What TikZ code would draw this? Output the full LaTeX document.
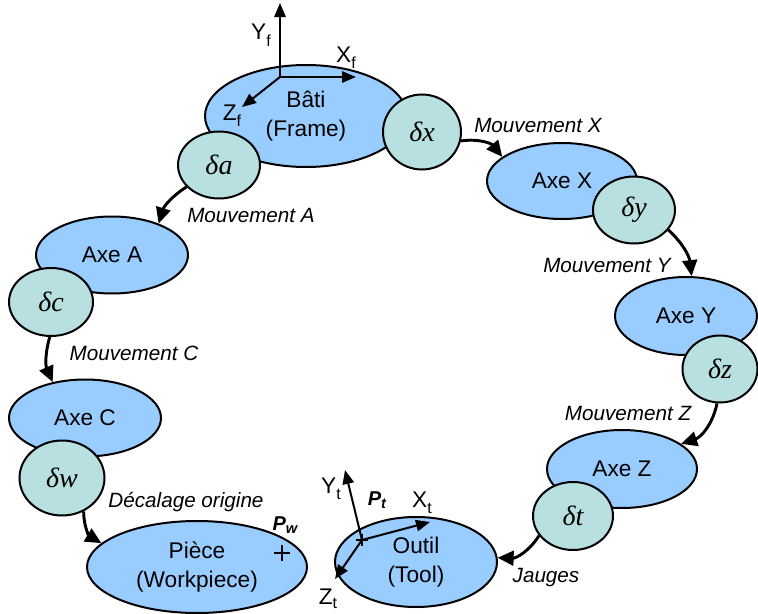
\documentclass[tikz,border=0pt]{standalone}
\usepackage{fontspec}
\setmainfont{Liberation Sans}
\newfontfamily\dfont{Liberation Serif}
\usetikzlibrary{shapes.geometric,arrows.meta}
\definecolor{bigblue}{HTML}{99CCFF}
\definecolor{smallteal}{HTML}{B8E0E0}
\newcommand{\sbx}[1]{\raisebox{-5pt}{\fontsize{12}{12}\selectfont #1}}
\newcommand{\sbz}[1]{\raisebox{-3.5pt}{\fontsize{12}{12}\selectfont #1}}
\newcommand{\sbp}[1]{\raisebox{-2.5pt}{\fontsize{11}{11}\selectfont\bfseries\itshape #1}}
\begin{document}
\begin{tikzpicture}[x=0.75pt,y=-0.75pt,
  big/.style={ellipse, draw, line width=1.5pt, fill=bigblue, inner sep=0pt, align=center,
    font=\fontsize{17}{21.75}\selectfont},
  small/.style={ellipse, draw, line width=1.5pt, fill=smallteal, inner sep=0pt,
    font=\dfont\itshape\fontsize{21}{21}\selectfont},
  lab/.style={font=\itshape\fontsize{15.5}{18}\selectfont, anchor=base, inner sep=0pt},
  axlab/.style={font=\fontsize{17}{17}\selectfont, anchor=base, inner sep=0pt},
  plab/.style={font=\bfseries\itshape\fontsize{15}{15}\selectfont, anchor=base, inner sep=0pt},
  conn/.style={line width=2.2pt, -{Triangle[length=12pt,width=11pt]}},
  axis/.style={line width=1.5pt, -{Triangle[length=10.5pt,width=8.5pt]}}
]
\useasboundingbox (0,0) rectangle (758,614);

% big ellipses
\node[big, minimum width=151.5pt, minimum height=76.5pt] (bati) at (306,116) {B\^ati\\(Frame)};
\node[big, minimum width=112.5pt, minimum height=57pt] (axX) at (562,181) {Axe X};
\node[big, minimum width=106.5pt, minimum height=58.5pt] (axY) at (686,316) {Axe Y};
\node[big, minimum width=112.5pt, minimum height=58.5pt] (axZ) at (622,469) {Axe Z};
\node[big, minimum width=114pt, minimum height=57.75pt] (axA) at (112,255) {Axe A};
\node[big, minimum width=114pt, minimum height=57.75pt] (axC) at (85,418) {Axe C};
\node[big, minimum width=165pt, minimum height=69pt] (piece) at (197,567) {Pi\`ece\\(Workpiece)};
\node[big, minimum width=121.5pt, minimum height=67.5pt] (outil) at (416,562) {Outil\\(Tool)};

% small ellipses
\node[small, minimum width=58.5pt, minimum height=56.25pt] (dx) at (422,132) {δx};
\node[small, minimum width=61.5pt, minimum height=50.25pt] (dy) at (634,210) {δy};
\node[small, minimum width=56.25pt, minimum height=50.25pt] (dz) at (720,369) {δz};
\node[small, minimum width=60pt, minimum height=51pt] (dt) at (573,516) {δt};
\node[small, minimum width=63.75pt, minimum height=56.25pt] (dw) at (62,478) {δw};
\node[small, minimum width=63pt, minimum height=51pt] (dc) at (51,302) {δc};
\node[small, minimum width=61.5pt, minimum height=50.25pt] (da) at (219,165) {δa};

% connectors
\draw[conn] (dx.-13) to[bend left=30] (axX.158);
\draw[conn] (dy.-30) to[bend left=20] (axY.82);
\draw[conn] (dz.-95) to[bend left=30] (axZ.23);
\draw[conn] (dt.210) to[bend left=30] (outil.3);
\draw[conn] (dw.-57) to[bend right=30] (piece.166);
\draw[conn] (dc.-92) to[bend right=20] (axC.132);
\draw[conn] (da.214) to[bend right=20] (axA.34);

% connector labels
\node[lab] (lX) at (538,132) {Mouvement X};
\node[lab] (lY) at (607,272) {Mouvement Y};
\node[lab] (lZ) at (628,420) {Mouvement Z};
\node[lab] (lJ) at (546,582) {Jauges};
\node[lab] (lD) at (186,507) {Décalage origine};
\node[lab] (lC) at (134,360) {Mouvement C};
\node[lab] (lA) at (251,222) {Mouvement A};

% frame axes
\coordinate (fo) at (280,77);
\coordinate (fy) at (280,3);
\coordinate (fx) at (356,77);
\coordinate (fz) at (242,107);
\draw[axis] (fo) -- (fy);
\draw[axis] (fo) -- (fx);
\draw[axis] (fo) -- (fz);
\node[axlab] (lYf) at (261,40) {Y\sbx{f}};
\node[axlab] (lXf) at (346,62) {X\sbx{f}};
\node[axlab] (lZf) at (232,120) {Z\sbx{f}};

% tool axes
\coordinate (to) at (362,540);
\coordinate (ty) at (345,470);
\coordinate (tx) at (430,522);
\coordinate (tz) at (335,579);
\draw[axis] (to) -- (ty);
\draw[axis] (to) -- (tx);
\draw[axis] (to) -- (tz);
\draw[line width=1.5pt] ([xshift=-4.5pt]to) -- ([xshift=4.5pt]to) ([yshift=-4.5pt]to) -- ([yshift=4.5pt]to);
\node[axlab] (lYt) at (331,493) {Y\sbx{t}};
\node[axlab] (lXt) at (422,507) {X\sbx{t}};
\node[axlab] (lZt) at (328,604) {Z\sbz{t}};
\node[plab] (lPt) at (377,505) {P\sbp{t}};

% workpiece point
\coordinate (pw) at (282,553);
\draw[line width=2.2pt] ([xshift=-6pt]pw) -- ([xshift=6pt]pw) ([yshift=-6pt]pw) -- ([yshift=6pt]pw);
\node[plab] (lPw) at (285,530) {P\sbp{w}};
\end{tikzpicture}
\end{document}
